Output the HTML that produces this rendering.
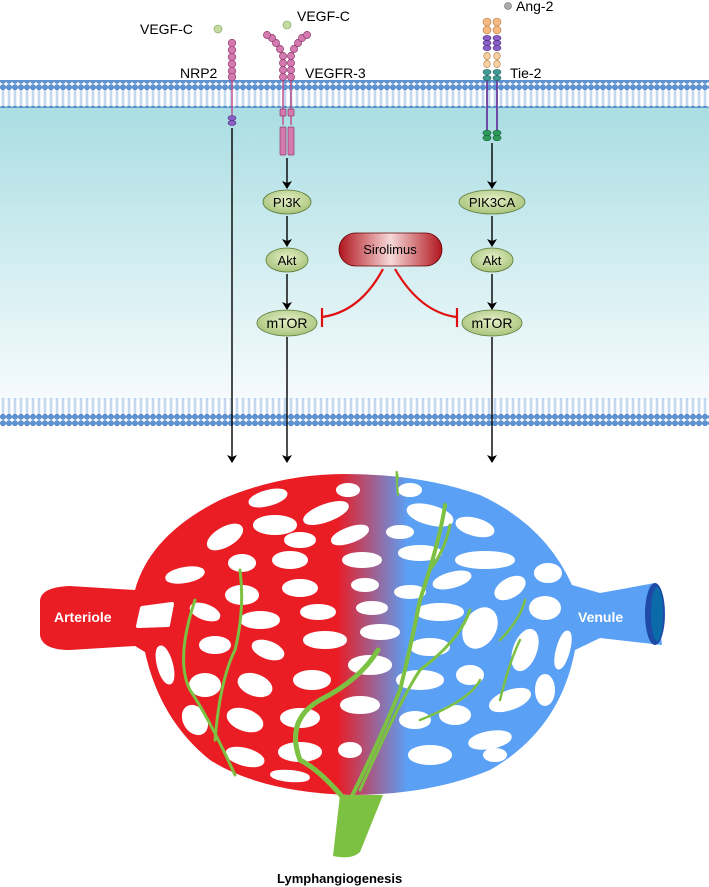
<!DOCTYPE html>
<html><head><meta charset="utf-8"><style>
html,body{margin:0;padding:0;background:#fff;}
svg{display:block;font-family:"Liberation Sans",sans-serif;}
</style></head><body>
<svg width="709" height="887" viewBox="0 0 709 887" xmlns="http://www.w3.org/2000/svg">
<defs>
<pattern id="mem" x="0" y="0" width="6" height="28" patternUnits="userSpaceOnUse">
<line x1="2.2" y1="5" x2="2.2" y2="23" stroke="#9dbde6" stroke-width="0.8"/>
<line x1="3.8" y1="5" x2="3.8" y2="23" stroke="#9dbde6" stroke-width="0.8"/>
<circle cx="3" cy="3.2" r="2.7" fill="#5c93d3" stroke="#3f74b8" stroke-width="0.5"/>
<circle cx="3" cy="24.8" r="2.7" fill="#5c93d3" stroke="#3f74b8" stroke-width="0.5"/>
</pattern>
<linearGradient id="cyto" x1="0" y1="0" x2="0" y2="1">
<stop offset="0" stop-color="#a9dde2"/><stop offset="0.55" stop-color="#d4eef1"/><stop offset="1" stop-color="#f6fbfd"/>
</linearGradient>
<radialGradient id="node" cx="0.5" cy="0.4" r="0.6"><stop offset="0" stop-color="#e6f0c8"/><stop offset="1" stop-color="#a8c37a"/></radialGradient>
<linearGradient id="siro" x1="0" y1="0" x2="1" y2="0"><stop offset="0" stop-color="#b0161e"/><stop offset="0.5" stop-color="#f6d8d8"/><stop offset="1" stop-color="#b0161e"/></linearGradient>
<linearGradient id="ves" gradientUnits="userSpaceOnUse" x1="0" y1="0" x2="709" y2="0">
<stop offset="0.475" stop-color="#ea1c24"/><stop offset="0.575" stop-color="#5aa0f5"/>
</linearGradient>
<marker id="ah" markerWidth="8" markerHeight="10" refX="7" refY="5" orient="auto" markerUnits="userSpaceOnUse"><path d="M0,0 L8,5 L0,10 L2,5z" fill="#000"/></marker>
</defs>
<rect x="0" y="106" width="709" height="294" fill="url(#cyto)"/>
<rect x="0" y="80" width="709" height="28" fill="url(#mem)"/>
<rect x="0" y="398" width="709" height="28" fill="url(#mem)"/>

<!-- NRP2 -->
<line x1="232" y1="40" x2="232" y2="118" stroke="#c0508f" stroke-width="1.5"/>
<g fill="#d57ab0" stroke="#8e3a6e" stroke-width="0.7">
<circle cx="232" cy="43" r="3.8"/><circle cx="232" cy="50" r="3.8"/><circle cx="232" cy="57" r="3.8"/><circle cx="232" cy="64" r="3.8"/><circle cx="232" cy="71" r="3.8"/><circle cx="232" cy="77" r="3.8"/>
</g>
<ellipse cx="232" cy="118" rx="4" ry="2.5" fill="#8a5ec4" stroke="#4b2a80" stroke-width="0.6"/>
<ellipse cx="232" cy="123" rx="4" ry="2.5" fill="#8a5ec4" stroke="#4b2a80" stroke-width="0.6"/>
<text x="140" y="34" font-size="14">VEGF-C</text><circle cx="218" cy="29" r="4" fill="#c5dba2" stroke="#7a9a5a" stroke-width="0.6"/>
<text x="180" y="78" font-size="14">NRP2</text>

<!-- VEGFR-3 -->
<line x1="283" y1="75" x2="283" y2="125" stroke="#c0508f" stroke-width="1.5"/>
<line x1="291" y1="75" x2="291" y2="125" stroke="#c0508f" stroke-width="1.5"/>
<g fill="#d57ab0" stroke="#8e3a6e" stroke-width="0.7">
<circle cx="283" cy="77" r="3.6"/><circle cx="283" cy="70" r="3.6"/><circle cx="283" cy="63" r="3.6"/><circle cx="283" cy="56" r="3.6"/><circle cx="280" cy="49" r="3.6"/><circle cx="276" cy="43" r="3.6"/><circle cx="272" cy="38" r="3.6"/><circle cx="267" cy="35" r="3.6"/>
<circle cx="291" cy="77" r="3.6"/><circle cx="291" cy="70" r="3.6"/><circle cx="291" cy="63" r="3.6"/><circle cx="291" cy="56" r="3.6"/><circle cx="294" cy="49" r="3.6"/><circle cx="298" cy="43" r="3.6"/><circle cx="302" cy="38" r="3.6"/><circle cx="307" cy="35" r="3.6"/>
<rect x="280" y="109" width="6" height="7" rx="1"/><rect x="288" y="109" width="6" height="7" rx="1"/>
<rect x="280" y="127" width="6" height="28" rx="1"/><rect x="288" y="127" width="6" height="28" rx="1"/>
</g>
<text x="297" y="21" font-size="14">VEGF-C</text><circle cx="287" cy="25" r="4" fill="#c5dba2" stroke="#7a9a5a" stroke-width="0.6"/>
<text x="305" y="78" font-size="14">VEGFR-3</text>

<!-- Tie-2 -->
<line x1="487" y1="75" x2="487" y2="133" stroke="#6a3aa0" stroke-width="1.8"/>
<line x1="497" y1="75" x2="497" y2="133" stroke="#6a3aa0" stroke-width="1.8"/>
<g stroke-width="0.6">
<g fill="#f4b882" stroke="#b07840"><circle cx="487" cy="22" r="4"/><circle cx="497" cy="22" r="4"/><circle cx="487" cy="30" r="4"/><circle cx="497" cy="30" r="4"/></g>
<g fill="#8a5ec4" stroke="#4b2a80"><ellipse cx="487" cy="38" rx="4" ry="2.6"/><ellipse cx="497" cy="38" rx="4" ry="2.6"/><ellipse cx="487" cy="43" rx="4" ry="2.6"/><ellipse cx="497" cy="43" rx="4" ry="2.6"/><ellipse cx="487" cy="48" rx="4" ry="2.6"/><ellipse cx="497" cy="48" rx="4" ry="2.6"/></g>
<g fill="#f6cfa0" stroke="#b07840"><ellipse cx="487" cy="56" rx="3.3" ry="3.6"/><ellipse cx="497" cy="56" rx="3.3" ry="3.6"/><ellipse cx="487" cy="64" rx="3.3" ry="3.6"/><ellipse cx="497" cy="64" rx="3.3" ry="3.6"/></g>
<g fill="#3f9a94" stroke="#1f5f5a"><ellipse cx="487" cy="72" rx="4" ry="2.6"/><ellipse cx="497" cy="72" rx="4" ry="2.6"/><ellipse cx="487" cy="78" rx="4" ry="2.6"/><ellipse cx="497" cy="78" rx="4" ry="2.6"/></g>
<g fill="#2e9a5a" stroke="#17603a"><ellipse cx="487" cy="133" rx="4" ry="2.8"/><ellipse cx="497" cy="133" rx="4" ry="2.8"/><ellipse cx="487" cy="138" rx="4" ry="2.8"/><ellipse cx="497" cy="138" rx="4" ry="2.8"/></g>
</g>
<circle cx="508" cy="6" r="3.5" fill="#aaa" stroke="#666" stroke-width="0.6"/><text x="516" y="11" font-size="14">Ang-2</text>
<text x="510" y="78" font-size="14">Tie-2</text>

<!-- arrows -->
<g stroke="#000" stroke-width="1.4" marker-end="url(#ah)">
<line x1="287" y1="158" x2="287" y2="188"/>
<line x1="287" y1="216" x2="287" y2="246"/>
<line x1="287" y1="274" x2="287" y2="309"/>
<line x1="492" y1="143" x2="492" y2="188"/>
<line x1="492" y1="216" x2="492" y2="246"/>
<line x1="492" y1="274" x2="492" y2="309"/>
<line x1="232" y1="128" x2="232" y2="462"/>
<line x1="287" y1="337" x2="287" y2="462"/>
<line x1="492" y1="337" x2="492" y2="462"/>
</g>
<g stroke="#5a7a3a" stroke-width="0.8" fill="url(#node)">
<ellipse cx="287" cy="202" rx="24" ry="12"/><ellipse cx="287" cy="260" rx="21" ry="12"/><ellipse cx="287" cy="323" rx="30" ry="13"/>
<ellipse cx="492" cy="202" rx="33" ry="12"/><ellipse cx="492" cy="260" rx="21" ry="12"/><ellipse cx="492" cy="323" rx="30" ry="13"/>
</g>
<g font-size="13" text-anchor="middle">
<text x="287" y="207">PI3K</text><text x="287" y="265">Akt</text><text x="287" y="328" font-size="14">mTOR</text>
<text x="492" y="207">PIK3CA</text><text x="492" y="265">Akt</text><text x="492" y="328" font-size="14">mTOR</text>
</g>
<rect x="339" y="233" width="103" height="33" rx="16.5" fill="url(#siro)" stroke="#600" stroke-width="0.8"/>
<text x="390" y="254" font-size="13" text-anchor="middle">Sirolimus</text>
<g stroke="#e01010" stroke-width="2.2" fill="none">
<path d="M383,269 Q360,312 322,317"/><line x1="322" y1="308" x2="322" y2="327"/>
<path d="M395,269 Q420,312 456,317"/><line x1="457" y1="308" x2="457" y2="327"/>
</g>

<!-- vessel -->
<path d="M40,600 Q42,587 70,586 L135,590 Q150,535 220,500 Q280,474 345,474 Q420,474 480,495 Q545,525 572,585 L600,593 L655,583 L662,645 L600,638 L575,650 Q560,730 490,770 Q430,795 350,795 Q260,792 210,760 Q160,720 145,652 L135,646 L70,650 Q42,650 40,635 Z" fill="url(#ves)"/>
<ellipse cx="655" cy="614" rx="10" ry="31" fill="#1f4aa8"/>
<ellipse cx="657" cy="614" rx="6" ry="27" fill="#0b6aa8"/>
<g fill="#fff" stroke="#fff" stroke-width="4" stroke-linejoin="round">
<ellipse cx="268" cy="498" rx="18" ry="6" transform="rotate(-15 268 498)"/>
<ellipse cx="348" cy="490" rx="10" ry="5"/>
<ellipse cx="326" cy="513" rx="22" ry="7" transform="rotate(-20 326 513)"/>
<ellipse cx="275" cy="525" rx="20" ry="8"/>
<ellipse cx="225" cy="537" rx="18" ry="8" transform="rotate(-30 225 537)"/>
<ellipse cx="300" cy="540" rx="14" ry="6"/>
<ellipse cx="350" cy="535" rx="18" ry="6" transform="rotate(-20 350 535)"/>
<ellipse cx="242" cy="563" rx="12" ry="7"/>
<ellipse cx="290" cy="560" rx="16" ry="7"/>
<ellipse cx="362" cy="560" rx="18" ry="6"/>
<ellipse cx="185" cy="575" rx="18" ry="6" transform="rotate(-10 185 575)"/>
<ellipse cx="242" cy="595" rx="15" ry="8"/>
<ellipse cx="300" cy="588" rx="16" ry="7"/>
<ellipse cx="365" cy="585" rx="12" ry="5"/>
<path d="M142,608 L172,604 L168,625 L138,626 Z"/>
<ellipse cx="205" cy="612" rx="14" ry="6" transform="rotate(20 205 612)"/>
<ellipse cx="260" cy="620" rx="18" ry="7"/>
<ellipse cx="318" cy="612" rx="16" ry="6"/>
<ellipse cx="372" cy="608" rx="14" ry="5"/>
<ellipse cx="215" cy="645" rx="14" ry="7"/>
<ellipse cx="268" cy="650" rx="15" ry="7" transform="rotate(20 268 650)"/>
<ellipse cx="325" cy="640" rx="20" ry="7"/>
<ellipse cx="380" cy="632" rx="18" ry="6"/>
<ellipse cx="165" cy="665" rx="6" ry="18" transform="rotate(-15 165 665)"/>
<ellipse cx="205" cy="685" rx="14" ry="10"/>
<ellipse cx="255" cy="685" rx="16" ry="9" transform="rotate(20 255 685)"/>
<ellipse cx="312" cy="680" rx="17" ry="8"/>
<ellipse cx="370" cy="665" rx="20" ry="8"/>
<ellipse cx="195" cy="720" rx="10" ry="14" transform="rotate(-30 195 720)"/>
<ellipse cx="245" cy="720" rx="17" ry="9" transform="rotate(20 245 720)"/>
<ellipse cx="300" cy="718" rx="18" ry="8"/>
<ellipse cx="360" cy="705" rx="18" ry="7"/>
<ellipse cx="245" cy="757" rx="18" ry="7" transform="rotate(15 245 757)"/>
<ellipse cx="300" cy="752" rx="20" ry="8"/>
<ellipse cx="290" cy="776" rx="18" ry="4" transform="rotate(5 290 776)"/>
<ellipse cx="350" cy="750" rx="10" ry="6"/>
<ellipse cx="410" cy="490" rx="10" ry="5"/>
<ellipse cx="430" cy="515" rx="22" ry="8" transform="rotate(15 430 515)"/>
<ellipse cx="400" cy="532" rx="12" ry="5"/>
<ellipse cx="475" cy="527" rx="18" ry="7" transform="rotate(15 475 527)"/>
<ellipse cx="420" cy="553" rx="20" ry="6"/>
<ellipse cx="485" cy="560" rx="28" ry="7"/>
<ellipse cx="452" cy="580" rx="18" ry="6" transform="rotate(-15 452 580)"/>
<ellipse cx="510" cy="588" rx="15" ry="8" transform="rotate(-30 510 588)"/>
<ellipse cx="548" cy="573" rx="12" ry="8"/>
<ellipse cx="410" cy="592" rx="14" ry="5"/>
<ellipse cx="440" cy="612" rx="22" ry="7"/>
<ellipse cx="545" cy="608" rx="14" ry="10"/>
<ellipse cx="480" cy="628" rx="14" ry="20" transform="rotate(30 480 628)"/>
<ellipse cx="430" cy="647" rx="18" ry="7"/>
<ellipse cx="525" cy="650" rx="10" ry="20" transform="rotate(20 525 650)"/>
<ellipse cx="563" cy="650" rx="5" ry="18" transform="rotate(15 563 650)"/>
<ellipse cx="420" cy="680" rx="22" ry="8"/>
<ellipse cx="470" cy="675" rx="12" ry="8"/>
<ellipse cx="510" cy="700" rx="20" ry="8" transform="rotate(-20 510 700)"/>
<ellipse cx="455" cy="715" rx="14" ry="8"/>
<ellipse cx="415" cy="720" rx="14" ry="7"/>
<ellipse cx="545" cy="690" rx="8" ry="14"/>
<ellipse cx="490" cy="740" rx="20" ry="7" transform="rotate(-10 490 740)"/>
<ellipse cx="430" cy="755" rx="20" ry="8"/>
<ellipse cx="495" cy="755" rx="10" ry="5"/>
</g>
<g fill="none" stroke="#7dc142" stroke-linecap="round">
<path d="M345,800 Q320,770 300,760 Q285,720 320,700 Q360,680 378,650" stroke-width="5"/>
<path d="M350,800 Q380,740 400,690 Q410,650 420,600 Q440,540 445,505" stroke-width="4"/>
<path d="M360,790 Q400,700 420,670 Q460,640 470,610" stroke-width="3"/>
<path d="M235,775 Q210,720 190,690 Q175,660 195,600" stroke-width="3"/>
<path d="M215,740 Q220,680 235,650 Q245,610 240,570" stroke-width="3"/>
<path d="M398,478 Q395,460 398,495" stroke-width="2"/>
<path d="M450,525 Q445,550 430,570" stroke-width="3"/>
<path d="M500,640 Q520,620 525,600" stroke-width="2.5"/>
<path d="M500,700 Q510,660 520,640" stroke-width="2.5"/>
<path d="M420,720 Q470,700 480,680" stroke-width="2.5"/>
</g>
<path d="M340,795 L383,795 L360,852 Q352,860 333,856 Z" fill="#7dc142"/>
<text x="54" y="622" font-size="14" font-weight="bold" fill="#fff">Arteriole</text>
<text x="578" y="622" font-size="14" font-weight="bold" fill="#fff">Venule</text>
<text x="277" y="883" font-size="13" font-weight="bold">Lymphangiogenesis</text>
</svg>
</body></html>
